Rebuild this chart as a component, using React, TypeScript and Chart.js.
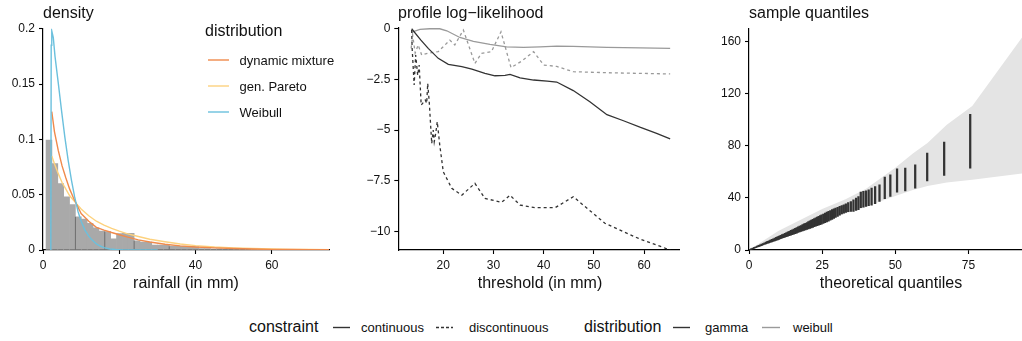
import React, { useEffect, useRef } from "react";
import { Chart, registerables } from "chart.js";
Chart.register(...registerables);

const FONT = "'Liberation Sans', Arial, Helvetica, sans-serif";

// ---------- Panel 1: rainfall density ----------
const histBinStart = 0.8;
const histBinWidth = 1.54;
const histDensity = [
  0.0994, 0.078, 0.06, 0.048, 0.041, 0.03, 0.028, 0.024, 0.02, 0.017, 0.0166, 0.0102,
  0.0148, 0.015, 0.015, 0.0084, 0.0072, 0.0072, 0.0045, 0.0045, 0.0045, 0.0036, 0.0034,
  0.0033, 0.0031, 0.003, 0.0012, 0.0012, 0.0008, 0.001, 0.0006, 0.0005, 0.0006, 0.0004,
  0.0003, 0.0004, 0.0002, 0.0003, 0, 0.0002, 0, 0.0001,
];
const histLineX = [8.5, 16.2, 23.9, 33.1];
const histLineTop = [0.03, 0.0166, 0.0084, 0.0033];

const weibullX = [2.05, 2.15, 2.3, 2.7, 3.15, 4.0, 4.86, 5.73, 6.6, 7.47, 8.3, 9.2, 10.0, 11.0, 12.0, 12.7, 14.0, 15.0, 16.0, 17.5, 19, 21, 24, 30];
const weibullY = [0, 0.185, 0.198, 0.192, 0.175, 0.151, 0.126, 0.102, 0.081, 0.063, 0.048, 0.0346, 0.026, 0.018, 0.0125, 0.0096, 0.0055, 0.0036, 0.0022, 0.0009, 0.0004, 0.0001, 0, 0];

const curveX = [2.3, 3, 4, 5, 6, 7, 8, 9, 10, 12, 14, 16, 18, 20, 22, 25, 28, 32, 36, 40, 45, 50, 55, 60, 65, 70, 75];
const mixtureY = [0.125, 0.107, 0.09, 0.076, 0.065, 0.055, 0.047, 0.04, 0.033, 0.026, 0.0205, 0.018, 0.0158, 0.0138, 0.0118, 0.0092, 0.0072, 0.0052, 0.0037, 0.0027, 0.0019, 0.0013, 0.0009, 0.0006, 0.0004, 0.0003, 0.0002];
const paretoY = [0.085, 0.078, 0.069, 0.061, 0.055, 0.049, 0.045, 0.041, 0.037, 0.031, 0.026, 0.0225, 0.0195, 0.017, 0.0148, 0.0122, 0.0097, 0.0074, 0.0054, 0.004, 0.0027, 0.0019, 0.0013, 0.0009, 0.0006, 0.0004, 0.0003];

const densXTicks = [0, 20, 40, 60];
const densYTicks = [0, 0.05, 0.1, 0.15, 0.2];

// ---------- Panel 2: profile log-likelihood ----------
const gammaContX = [13.7, 15.5, 17, 19, 21, 23.7, 25.7, 28.3, 30.3, 32.3, 33.3, 35.3, 38, 40.7, 42.6, 45.9, 49.2, 52.6, 55.9, 59.3, 62.5, 65.2];
const gammaContY = [0, -0.55, -0.97, -1.46, -1.76, -1.87, -1.99, -2.2, -2.32, -2.3, -2.25, -2.42, -2.53, -2.58, -2.63, -3.05, -3.6, -4.24, -4.54, -4.87, -5.16, -5.43];

const weibullContX = [13.6, 15.35, 17.3, 19.3, 20.7, 23.3, 26, 29.3, 32.6, 36, 39.3, 42.6, 45.9, 52.6, 59.3, 65.2];
const weibullContY = [-0.18, -0.03, 0, 0, -0.1, -0.43, -0.62, -0.77, -0.89, -0.92, -0.89, -0.86, -0.87, -0.92, -0.94, -0.97];

const weibullDiscX = [13.6, 13.9, 14.4, 15, 15.7, 17, 19, 21.3, 22.3, 24, 26.3, 27.6, 29.6, 31.5, 33.5, 35.6, 38, 40, 42.6, 45.9, 52.6, 65.2];
const weibullDiscY = [-0.97, -0.31, -1.2, -0.8, -1.3, -1.2, -1.13, -0.56, -0.8, -0.06, -1.71, -1.21, -1.13, -0.15, -1.92, -1.6, -1.13, -1.79, -1.86, -2.12, -2.17, -2.23];

const gammaDiscX = [13.7, 13.8, 14.2, 14.5, 14.9, 15.2, 15.6, 16.4, 16.7, 16.9, 17.2, 17.7, 18, 18.2, 18.5, 18.8, 19.3, 20, 21.7, 23.7, 26.3, 28.3, 31.6, 33.3, 35.3, 38.3, 42.3, 45.9, 52.2, 58.9, 65.2];
const gammaDiscY = [-0.06, -0.97, -2.78, -1.3, -2.29, -1.79, -3.77, -3.52, -3.68, -2.7, -3.6, -5.66, -5, -5.58, -5.16, -4.59, -5.74, -7.06, -7.88, -8.21, -7.63, -8.37, -8.57, -8.22, -8.7, -8.83, -8.83, -8.29, -9.6, -10.35, -10.92];

const llXTicks = [20, 30, 40, 50, 60];
const llYTicks = [-10, -7.5, -5, -2.5, 0];

// ---------- Panel 3: QQ plot ----------
const qqX = [
  0.3, 0.8, 1.3, 1.8, 2.3, 2.8, 3.3, 3.8, 4.3, 4.8, 5.3, 5.8, 6.3, 6.8, 7.3, 7.8, 8.3, 8.8, 9.3, 9.8,
  10.3, 10.8, 11.3, 11.8, 12.3, 12.8, 13.3, 13.8, 14.3, 14.8, 15.3, 15.8, 16.3, 16.8, 17.3, 17.8,
  18.3, 18.8, 19.3, 19.8, 20.3, 20.8, 21.3, 21.8, 22.3, 22.8, 23.3, 23.8, 24.3, 24.8, 25.4, 26.0,
  26.6, 27.2, 27.8, 28.4, 29.0, 29.6, 30.3, 31.0, 31.7, 32.4, 33.1, 33.9, 34.8, 35.7, 36.6, 37.4,
  38.2, 39.1, 40.0, 40.9, 41.9, 43.1, 44.6, 46.4, 48.3, 50.6, 53.4, 56.8, 60.9, 66.7, 75.6,
];
const qqLo = [
  0.1, 0.5, 0.9, 1.3, 1.8, 2.2, 2.6, 3.0, 3.4, 3.8, 4.2, 4.6, 5.0, 5.4, 5.8, 6.2, 6.6, 7.0, 7.4, 7.8,
  8.2, 8.6, 9.0, 9.4, 9.8, 10.2, 10.6, 11.0, 11.4, 11.8, 12.2, 12.6, 13.0, 13.4, 13.8, 14.2,
  14.6, 15.0, 15.4, 15.8, 16.2, 16.6, 17.0, 17.4, 17.8, 18.2, 18.6, 19.0, 19.4, 19.8, 20.3, 20.9,
  21.5, 22.1, 22.8, 23.5, 24.2, 24.9, 25.8, 26.7, 27.6, 28.3, 28.9, 29.3, 29.6, 29.6, 30.3, 30.9,
  32.4, 32.9, 33.4, 33.9, 34.4, 35.5, 37.2, 39.3, 41.1, 44.4, 45.4, 47.5, 53, 57.1, 62.8,
];
const qqHi = [
  0.5, 1.0, 1.5, 2.0, 2.5, 3.0, 3.5, 4.0, 4.5, 5.0, 5.5, 6.0, 6.6, 7.1, 7.6, 8.1, 8.6, 9.1, 9.7, 10.2,
  10.7, 11.2, 11.8, 12.3, 12.8, 13.4, 13.9, 14.4, 15.0, 15.5, 16.1, 16.6, 17.2, 17.7, 18.3, 18.8,
  19.4, 20.0, 20.5, 21.1, 21.7, 22.3, 22.9, 23.5, 24.1, 24.7, 25.2, 25.8, 26.4, 27.0, 27.6, 28.3,
  29.0, 29.7, 30.3, 31.0, 31.6, 32.2, 32.8, 33.4, 34.0, 34.6, 35.4, 36.3, 37.2, 38.5, 39.8, 41,
  44.4, 44.9, 45.4, 46.2, 47.5, 48.7, 50, 55.9, 57.7, 62.3, 62.8, 65.3, 74.3, 82.7, 104.1,
];
const ribbonX = [0, 10, 25, 33, 40, 45, 50, 56, 61, 67.6, 76.3, 93.3];
const ribbonHi = [0, 14.5, 31.5, 39, 47, 55, 63, 74, 82, 96, 110.5, 163];
const ribbonLo = [0, 8.5, 21.5, 28, 33, 37.4, 41.5, 46, 49, 51.8, 53.8, 58.6];

const qqXTicks = [0, 25, 50, 75];
const qqYTicks = [0, 40, 80, 120, 160];

// ---------- colours ----------
const COL_MIX = "#F08A4B";
const COL_GPD = "#FDD27E";
const COL_WEI = "#6BC0DD";
const COL_HIST = "#A9A9A9";
const COL_DARK = "#333333";
const COL_GREY = "#9a9a9a";

const pts = (xs: number[], ys: number[]) => xs.map((x, i) => ({ x, y: ys[i] }));

function linAxis(o: { min: number; max: number; ticks: number[]; fmt: (v: number) => string; size: number; horizontal: boolean }) {
  return {
    type: "linear" as const,
    min: o.min,
    max: o.max,
    offset: false,
    afterFit: (s: any) => {
      if (o.horizontal) s.height = o.size;
      else s.width = o.size;
    },
    afterBuildTicks: (s: any) => {
      s.ticks = o.ticks.map((v) => ({ value: v }));
    },
    grid: { drawOnChartArea: false, drawTicks: true, tickLength: 4, tickWidth: 1.1, tickColor: "#000", offset: false },
    border: { display: true, color: "#000", width: 1.2 },
    ticks: {
      color: "#111",
      font: { family: FONT, size: 12 },
      padding: 4,
      autoSkip: false,
      maxRotation: 0,
      minRotation: 0,
      callback: (v: any) => o.fmt(Number(v)),
    },
  };
}

const baseOpts = (padding: any) => ({
  animation: false as const,
  responsive: false,
  devicePixelRatio: 1,
  events: [] as any[],
  layout: { padding },
  plugins: { legend: { display: false }, tooltip: { enabled: false }, title: { display: false } },
});

const lineDs = (data: any[], color: string, width = 1.3, dash: number[] = []) => ({
  type: "line" as const,
  data,
  borderColor: color,
  borderWidth: width,
  borderDash: dash,
  pointRadius: 0,
  tension: 0,
  fill: false,
  spanGaps: false,
});

function densityConfig(): any {
  const bars = histDensity.map((d, i) => ({ x: histBinStart + histBinWidth * (i + 0.5), y: d }));
  const darkLines: any[] = [];
  histLineX.forEach((x, i) => {
    darkLines.push({ x, y: 0 }, { x, y: histLineTop[i] }, { x, y: null });
  });
  return {
    type: "bar",
    data: {
      datasets: [
        lineDs(pts(weibullX, weibullY), COL_WEI, 1.4),
        lineDs(pts(curveX, mixtureY), COL_MIX, 1.4),
        lineDs(pts(curveX, paretoY), COL_GPD, 1.4),
        lineDs(darkLines, "#6e6e6e", 1),
        {
          type: "bar",
          data: bars,
          backgroundColor: COL_HIST,
          borderWidth: 0,
          barPercentage: 1,
          categoryPercentage: 1,
          grouped: false,
        },
      ],
    },
    options: {
      ...baseOpts({ left: 0, right: 11, top: 28.7, bottom: 0 }),
      scales: {
        x: linAxis({ min: 0, max: 75, ticks: densXTicks, fmt: (v) => String(v), size: 50, horizontal: true }),
        y: linAxis({ min: 0, max: 0.2, ticks: densYTicks, fmt: (v) => String(v), size: 43, horizontal: false }),
      },
    },
  };
}

function llConfig(): any {
  return {
    type: "line",
    data: {
      datasets: [
        lineDs(pts(gammaContX, gammaContY), COL_DARK, 1.3),
        lineDs(pts(gammaDiscX, gammaDiscY), COL_DARK, 1.3, [3, 3]),
        lineDs(pts(weibullContX, weibullContY), COL_GREY, 1.3),
        lineDs(pts(weibullDiscX, weibullDiscY), COL_GREY, 1.3, [3, 3]),
      ],
    },
    options: {
      ...baseOpts({ left: 0, right: 0.7, top: 27.75, bottom: 0 }),
      scales: {
        x: linAxis({ min: 11.04, max: 67.02, ticks: llXTicks, fmt: (v) => String(v), size: 50, horizontal: true }),
        y: linAxis({
          min: -10.92,
          max: 0.05,
          ticks: llYTicks,
          fmt: (v) => (v === 0 ? "0" : (v < 0 ? "\u2212" : "") + String(Math.abs(v))),
          size: 58.3,
          horizontal: false,
        }),
      },
    },
  };
}

function qqConfig(): any {
  const segs = qqX.map((x, i) => ({ x, y: [qqLo[i], qqHi[i]] }));
  return {
    type: "bar",
    data: {
      datasets: [
        {
          type: "bar",
          data: segs,
          backgroundColor: COL_DARK,
          borderWidth: 0,
          barThickness: 1.6,
          grouped: false,
        },
        {
          type: "line",
          data: pts(ribbonX, ribbonHi),
          borderWidth: 0,
          borderColor: "rgba(0,0,0,0)",
          backgroundColor: "#E4E4E4",
          pointRadius: 0,
          tension: 0,
          fill: "+1",
        },
        {
          type: "line",
          data: pts(ribbonX, ribbonLo),
          borderWidth: 0,
          borderColor: "rgba(0,0,0,0)",
          pointRadius: 0,
          tension: 0,
          fill: false,
        },
      ],
    },
    options: {
      ...baseOpts({ left: 0, right: 0, top: 28.7, bottom: 0 }),
      scales: {
        x: linAxis({ min: 0, max: 93.3, ticks: qqXTicks, fmt: (v) => String(v), size: 50, horizontal: true }),
        y: linAxis({ min: 0, max: 169.7, ticks: qqYTicks, fmt: (v) => String(v), size: 69, horizontal: false }),
      },
    },
  };
}

function ChartCanvas({ left, width, height, build }: { left: number; width: number; height: number; build: () => any }) {
  const ref = useRef<HTMLCanvasElement>(null);
  useEffect(() => {
    const chart = new Chart(ref.current as HTMLCanvasElement, build());
    return () => chart.destroy();
  }, []);
  return (
    <canvas
      ref={ref}
      width={width}
      height={height}
      style={{ position: "absolute", left, top: 0, width, height, display: "block" }}
    />
  );
}

const txt = (s: string, left: number, cy: number, size: number, extra: any = {}) => (
  <div
    style={{
      position: "absolute",
      left,
      top: cy - size / 2 - 1,
      fontFamily: FONT,
      fontSize: size,
      lineHeight: `${size + 2}px`,
      color: "#111",
      whiteSpace: "nowrap",
      ...extra,
    }}
  >
    {s}
  </div>
);

const ctxt = (s: string, cx: number, cy: number, size: number) => (
  <div
    style={{
      position: "absolute",
      left: cx - 150,
      width: 300,
      textAlign: "center",
      top: cy - size / 2 - 1,
      fontFamily: FONT,
      fontSize: size,
      lineHeight: `${size + 2}px`,
      color: "#111",
      whiteSpace: "nowrap",
    }}
  >
    {s}
  </div>
);

const key = (x1: number, x2: number, y: number, color: string, dash?: string, w = 1.4) => (
  <line x1={x1} x2={x2} y1={y} y2={y} stroke={color} strokeWidth={w} strokeDasharray={dash} />
);

export default function App() {
  return (
    <div style={{ position: "absolute", left: 0, top: 0, width: 1022, height: 341, background: "#fff", overflow: "hidden" }}>
      <ChartCanvas left={0} width={340} height={300} build={densityConfig} />
      <ChartCanvas left={340} width={340} height={300} build={llConfig} />
      <ChartCanvas left={680} width={342} height={300} build={qqConfig} />

      {/* panel titles */}
      {txt("density", 43, 13, 16)}
      {txt("profile log\u2212likelihood", 398, 13, 16)}
      {txt("sample quantiles", 749, 13, 16)}
      {ctxt("rainfall (in mm)", 186, 283, 16)}
      {ctxt("threshold (in mm)", 540, 283, 16)}
      {ctxt("theoretical quantiles", 891, 283, 16)}

      {/* inner legend panel 1 */}
      {txt("distribution", 205, 31, 16)}
      {txt("dynamic mixture", 239.5, 60, 13)}
      {txt("gen. Pareto", 239.5, 86, 13)}
      {txt("Weibull", 239.5, 112, 13)}

      {/* bottom legend */}
      {txt("constraint", 249, 327, 16)}
      {txt("continuous", 361, 327, 13)}
      {txt("discontinuous", 469, 327, 13)}
      {txt("distribution", 584, 327, 16)}
      {txt("gamma", 705, 327, 13)}
      {txt("weibull", 793, 327, 13)}

      <svg width={1022} height={341} style={{ position: "absolute", left: 0, top: 0, pointerEvents: "none" }}>
        {key(208, 229, 60, COL_MIX)}
        {key(208, 229, 86, COL_GPD)}
        {key(208, 229, 112, COL_WEI)}
        {key(333, 350, 327.5, COL_DARK)}
        {key(436, 453, 327.5, COL_DARK, "3 2")}
        {key(673, 690, 327.5, COL_DARK)}
        {key(762, 780, 327.5, COL_GREY)}
      </svg>
    </div>
  );
}
